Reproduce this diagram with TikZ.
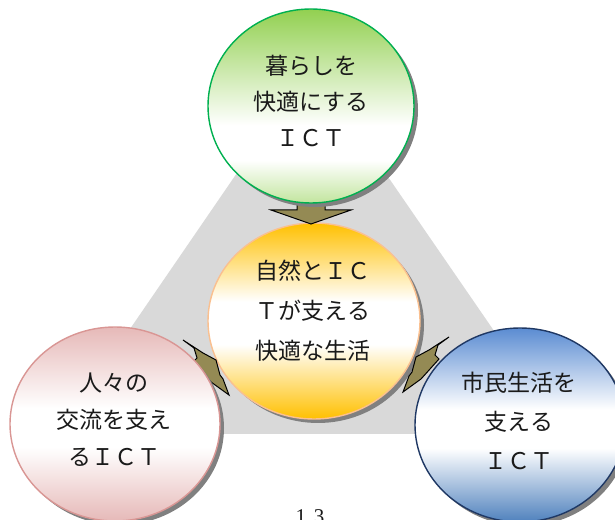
\documentclass[tikz,border=0pt]{standalone}
\usepackage{fontspec}
\newfontfamily\jp{Noto Sans CJK JP}
\newfontfamily\numfont{Liberation Serif}
\usetikzlibrary{shapes.geometric,shadows}
\definecolor{bandgray}{HTML}{D9D9D9}
\definecolor{shadowgray}{HTML}{808080}
\definecolor{olivefill}{HTML}{948A54}
\definecolor{greenc}{HTML}{92D050}
\definecolor{greenlow}{HTML}{C2E59E}
\definecolor{greenedge}{HTML}{00B050}
\definecolor{goldc}{HTML}{FFC000}
\definecolor{orangeedge}{HTML}{FAC090}
\definecolor{pinkc}{HTML}{E6B9B8}
\definecolor{pinkedge}{HTML}{D99694}
\definecolor{bluec}{HTML}{4F81BD}
\definecolor{bluetop}{HTML}{5B8CD2}
\definecolor{blueedge}{HTML}{1F3864}
\definecolor{textblack}{HTML}{1A1A1A}
\pgfdeclareverticalshading{greenshade}{100bp}{color(0bp)=(greenlow); color(25bp)=(greenlow); color(36bp)=(white); color(45bp)=(white); color(75bp)=(greenc); color(100bp)=(greenc)}
\pgfdeclareverticalshading{goldshade}{100bp}{color(0bp)=(goldc); color(25bp)=(goldc); color(44bp)=(white); color(55bp)=(white); color(75bp)=(goldc); color(100bp)=(goldc)}
\pgfdeclareverticalshading{pinkshade}{100bp}{color(0bp)=(pinkc); color(25bp)=(pinkc); color(44bp)=(white); color(54bp)=(white); color(75bp)=(pinkc); color(100bp)=(pinkc)}
\pgfdeclareverticalshading{blueshade}{100bp}{color(0bp)=(bluec); color(25bp)=(bluec); color(44bp)=(white); color(54bp)=(white); color(75bp)=(bluetop); color(100bp)=(bluetop)}
\begin{document}
\begin{tikzpicture}[x=1pt,y=1pt,
  bubble/.style={ellipse, inner sep=0pt, line width=1.4pt, shading angle=0,
    drop shadow={shadow xshift=4pt, shadow yshift=-4pt, fill=shadowgray, opacity=1}},
  bubbletext/.style={font=\jp\fontsize{23}{#1}\selectfont, align=center, text=textblack, inner sep=0pt},
  boltarrow/.style={fill=olivefill, draw=black, line width=1pt, line join=miter}]
\useasboundingbox (0,0) rectangle (615,519);
% gray band
\fill[bandgray] (311,454) -- (58,85) -- (565,85) -- cycle;
% center circle
\node[bubble, draw=orangeedge, shading=goldshade,
  minimum width=212pt, minimum height=196pt] (core) at (314,198) {};
% down arrow
\draw[boltarrow] (297,324) -- (297,309) -- (271,309) -- (311,295) -- (351,309) -- (325,309) -- (325,324) -- cycle;
% left bolt arrow
\draw[boltarrow] (183,179) -- (203,166) -- (216,159) -- (220,144) -- (223,140) -- (229,124)
  -- (211,137) -- (193,157) -- (197,161) -- (194,171) -- cycle;
% right bolt arrow (mirrored)
\begin{scope}[xshift=632pt, xscale=-1, yshift=3pt]
\draw[boltarrow] (183,179) -- (203,166) -- (216,159) -- (220,144) -- (223,140) -- (229,124)
  -- (211,137) -- (193,157) -- (197,161) -- (194,171) -- cycle;
\end{scope}
% top circle
\node[bubble, draw=greenedge, shading=greenshade,
  minimum width=206pt, minimum height=194pt] (life) at (311,413) {};
% left circle
\node[bubble, draw=pinkedge, shading=pinkshade,
  minimum width=210pt, minimum height=194pt] (people) at (115,95) {};
% right circle
\node[bubble, draw=blueedge, shading=blueshade,
  minimum width=210pt, minimum height=194pt] (citizen) at (520,94) {};
% texts
\node[bubbletext=36pt] (lifetext) at (311,418) {暮らしを\\快適にする\\ＩＣＴ};
\node[bubbletext=40pt] (coretext) at (313,208) {自然とＩＣ\\Ｔが支える\\快適な生活};
\node[bubbletext=37pt] (peopletext) at (114,99) {人々の\\交流を支え\\るＩＣＴ};
\node[bubbletext=39pt] (citizentext) at (519,98) {市民生活を\\支える\\ＩＣＴ};
\node[font=\numfont\fontsize{21}{24}\selectfont, anchor=base, inner sep=0pt, text=textblack] (pagenum) at (310,-4) {1\hspace{8pt}3};
\end{tikzpicture}
\end{document}
